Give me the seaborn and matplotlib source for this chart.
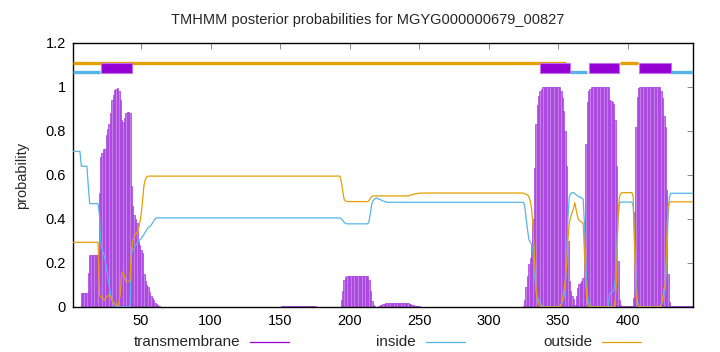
import matplotlib
matplotlib.use("Agg")
import matplotlib.pyplot as plt
import pandas as pd
import seaborn as sns
from matplotlib.patches import Rectangle
from matplotlib.lines import Line2D

title = "TMHMM posterior probabilities for MGYG000000679_00827"
residues = list(range(1, 448))

inside = ([0.707]*6 + [0.64]*5 + [0.55] + [0.47]*7
          + [0.42, 0.29, 0.26, 0.245, 0.22, 0.18, 0.14, 0.10, 0.06, 0.03, 0.015]
          + [0.0]*12
          + [0.24, 0.26, 0.27, 0.28, 0.29, 0.30, 0.305, 0.31, 0.32, 0.33, 0.34, 0.35,
             0.36, 0.365, 0.37, 0.38, 0.39, 0.40]
          + [0.405]*133
          + [0.40, 0.395, 0.385, 0.38]
          + [0.378]*16
          + [0.39, 0.43, 0.47, 0.485, 0.49, 0.495, 0.495]
          + [0.49, 0.488, 0.485, 0.482, 0.48, 0.478]
          + [0.476]*99
          + [0.456, 0.40, 0.35, 0.305, 0.295, 0.28, 0.245, 0.15, 0.08, 0.05, 0.03, 0.015, 0.008]
          + [0.0]*13
          + [0.01, 0.02, 0.04, 0.08, 0.18, 0.40, 0.50]
          + [0.515, 0.52, 0.52, 0.515, 0.51, 0.505, 0.50, 0.50, 0.495, 0.49]
          + [0.365, 0.17, 0.05, 0.02, 0.01]
          + [0.0]*13
          + [0.06, 0.065, 0.07, 0.077, 0.12, 0.24, 0.395]
          + [0.47] + [0.477]*9 + [0.46]
          + [0.30, 0.12, 0.03]
          + [0.0]*16 + [0.01, 0.02, 0.05]
          + [0.08, 0.20, 0.395, 0.50]
          + [0.517]*17)

outside = ([0.294]*19
           + [0.06, 0.045, 0.04, 0.035, 0.03, 0.045, 0.05, 0.055, 0.045, 0.035, 0.02, 0.015,
              0.01, 0.005, 0.02, 0.06, 0.15, 0.16, 0.14, 0.12, 0.115, 0.115, 0.12]
           + [0.25, 0.30, 0.32, 0.33, 0.34, 0.35, 0.38, 0.42, 0.48, 0.55, 0.58, 0.59]
           + [0.595]*139
           + [0.57, 0.53, 0.49, 0.482, 0.48]
           + [0.479]*15
           + [0.485, 0.495, 0.502, 0.505]
           + [0.505]*25
           + [0.507, 0.509, 0.511, 0.512, 0.514, 0.515, 0.516, 0.517]
           + [0.518]*74
           + [0.518, 0.515, 0.512, 0.51, 0.50, 0.48, 0.44, 0.36, 0.22, 0.09, 0.03, 0.01, 0.005, 0.0]
           + [0.0]*13
           + [0.01, 0.03, 0.07, 0.12, 0.18, 0.30, 0.38, 0.41, 0.43, 0.445, 0.474, 0.44, 0.41,
              0.395, 0.39, 0.385, 0.38, 0.24, 0.09, 0.02]
           + [0.0]*19
           + [0.03, 0.12, 0.395, 0.50, 0.515]
           + [0.52]*8
           + [0.50, 0.27, 0.06, 0.015, 0.005]
           + [0.0]*15 + [0.01, 0.03, 0.08]
           + [0.10, 0.27, 0.456, 0.477]
           + [0.478]*17)

transmembrane = ([0.0]*6 + [0.065]*5 + [0.155] + [0.236]*7
                 + [0.52, 0.68, 0.70, 0.72, 0.72, 0.78, 0.81, 0.83, 0.88, 0.94, 0.965]
                 + [0.985, 0.99, 0.995, 0.98, 0.94, 0.85, 0.84, 0.86, 0.88, 0.885, 0.885, 0.88]
                 + [0.55, 0.46, 0.42, 0.40, 0.38, 0.30, 0.28, 0.26, 0.245, 0.15, 0.12, 0.10,
                    0.09, 0.07, 0.05, 0.04, 0.03, 0.02, 0.015, 0.01, 0.005]
                 + [0.0]*87 + [0.004]*25 + [0.0]*18
                 + [0.03, 0.075, 0.125, 0.138]
                 + [0.142]*16
                 + [0.125, 0.075, 0.028, 0.01, 0.005, 0.0, 0.0]
                 + [0.005, 0.008, 0.01, 0.013, 0.015, 0.017]
                 + [0.02]*16
                 + [0.015, 0.012, 0.01, 0.008, 0.006, 0.005, 0.004, 0.003]
                 + [0.0]*74
                 + [0.006, 0.03, 0.09, 0.14, 0.195, 0.225, 0.28, 0.40, 0.63, 0.83, 0.92, 0.96, 0.98, 0.99]
                 + [1.0]*13
                 + [0.98, 0.95, 0.89, 0.80, 0.64, 0.30, 0.12]
                 + [0.075, 0.05, 0.035, 0.011, 0.05, 0.085, 0.105, 0.11, 0.12, 0.13]
                 + [0.395, 0.74, 0.93, 0.98, 0.99]
                 + [1.0]*13
                 + [0.94, 0.935, 0.93, 0.923, 0.85, 0.64, 0.21]
                 + [0.03, 0.008] + [0.003]*8 + [0.04]
                 + [0.43, 0.82, 0.955]
                 + [0.995] + [1.0]*15 + [0.98, 0.95, 0.87]
                 + [0.82, 0.53, 0.15, 0.023]
                 + [0.005]*17)

# predicted topology (residue ranges) shown above the curves
tm_segments = [(21, 43.4), (336.6, 358.5), (372, 394), (408, 431)]
inside_segments = [(1, 20.4), (358.5, 371), (431, 447)]
outside_segments = [(1, 356), (394.5, 407.5)]

x_ticks = [50, 100, 150, 200, 250, 300, 350, 400]
y_ticks = [0, 0.2, 0.4, 0.6, 0.8, 1.0, 1.2]
y_ticklabels = ["0", "0.2", "0.4", "0.6", "0.8", "1", "1.2"]

C_TM = "#9400d3"
C_IN = "#56b4e9"
C_OUT = "#e69f00"

sns.set_theme(style="white")
plt.rcParams["font.family"] = ["Liberation Sans", "DejaVu Sans"]

df = pd.DataFrame({"residue": residues, "inside": inside,
                   "outside": outside, "transmembrane": transmembrane})

fig = plt.figure(figsize=(7.2, 3.52), dpi=100)
ax = fig.add_axes([73/720, 45/352, 620/720, 264/352])

# transmembrane posterior as impulses
ax.bar(df["residue"], df["transmembrane"], width=1.0, color="#c57de8",
       edgecolor="#a53ae0", linewidth=0.5, zorder=2)

sns.lineplot(data=df, x="residue", y="inside", color=C_IN, lw=0.9, ax=ax, zorder=3)
sns.lineplot(data=df, x="residue", y="outside", color=C_OUT, lw=0.9, ax=ax, zorder=3)

# topology bars on top
for s, e in outside_segments:
    ax.plot([s, e], [1.108, 1.108], color=C_OUT, lw=2.4, solid_capstyle="butt", zorder=3)
for s, e in inside_segments:
    ax.plot([s, e], [1.068, 1.068], color=C_IN, lw=2.4, solid_capstyle="butt", zorder=3)
for s, e in tm_segments:
    ax.add_patch(Rectangle((s, 1.063), e - s, 0.047, facecolor=C_TM,
                           edgecolor="#c070e8", lw=0.8, zorder=4))

ax.set_xlim(1, 447)
ax.set_ylim(0, 1.2)
ax.set_xticks(x_ticks)
ax.set_xticklabels([str(t) for t in x_ticks])
ax.set_yticks(y_ticks)
ax.set_yticklabels(y_ticklabels)
ax.tick_params(direction="in", length=4, width=0.6, color="#777777",
               labelsize=10.5, labelcolor="black", top=True, right=True,
               labeltop=False, labelright=False, pad=5)
ax.set_xlabel("")
ax.set_ylabel("probability", fontsize=10.5, labelpad=12)
for sp in ax.spines.values():
    sp.set_color("black")
    sp.set_linewidth(1.0)

fig.text(368/720, 1 - 20/352, title, ha="center", va="center", fontsize=10.5)

# legend row at bottom (text right-aligned, sample line after)
legend_items = [("transmembrane", C_TM), ("inside", C_IN), ("outside", C_OUT)]
ly = 1 - 342/352
for i, (lab, col) in enumerate(legend_items):
    xr = (240 + 176*i)/720
    fig.text(xr, ly, lab, ha="right", va="center", fontsize=11)
    fig.add_artist(Line2D([(250 + 176*i)/720, (289 + 176*i)/720], [ly, ly],
                          color=col, lw=0.9, transform=fig.transFigure))

fig.savefig("out.png", dpi=100)
